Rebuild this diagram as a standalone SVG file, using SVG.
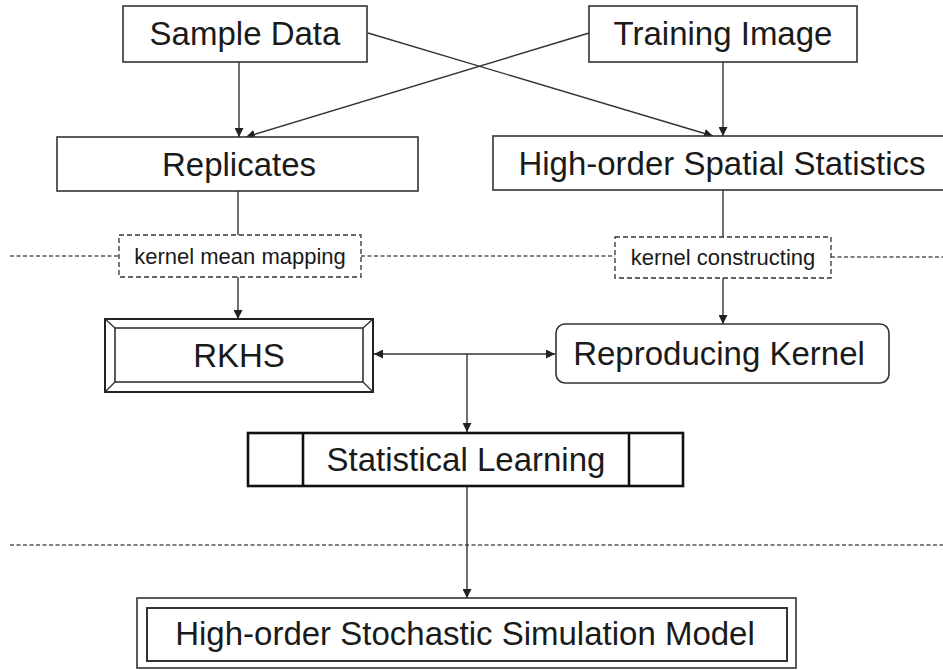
<svg xmlns="http://www.w3.org/2000/svg" width="943" height="670" viewBox="0 0 943 670">
  <style>
    .box { fill: #fff; stroke: #333; stroke-width: 1.6; }
    .lbl { font-family: "Liberation Sans", Arial, sans-serif; font-size: 33px; fill: #1a1a1a; text-anchor: middle; }
    .small { font-family: "Liberation Sans", Arial, sans-serif; font-size: 22px; fill: #1a1a1a; text-anchor: middle; }
    .dashbox { fill: #fff; stroke: #333; stroke-width: 1.3; stroke-dasharray: 5 3; }
    .sep { fill: none; stroke: #555; stroke-width: 1.3; stroke-dasharray: 4 2.5; }
    .edge { fill: none; stroke: #333; stroke-width: 1.4; }
  </style>
  <defs>
    <marker id="arrow" viewBox="0 0 10 10" refX="10" refY="5" markerWidth="9" markerHeight="9" markerUnits="userSpaceOnUse" orient="auto-start-reverse">
      <path d="M0,0 L10,5 L0,10 z" fill="#222"/>
    </marker>
  </defs>

  <rect width="943" height="670" fill="#fff"/>

  <!-- phase separators -->
  <g id="separators">
    <line class="sep" x1="10" y1="256" x2="119" y2="256"/>
    <line class="sep" x1="361" y1="256" x2="615" y2="256"/>
    <line class="sep" x1="831" y1="257" x2="943" y2="257"/>
    <line class="sep" x1="10" y1="545" x2="943" y2="545"/>
  </g>

  <!-- connectors -->
  <g id="connectors">
    <line class="edge" x1="239" y1="62" x2="239" y2="137" marker-end="url(#arrow)"/>
    <line class="edge" x1="723" y1="62" x2="723" y2="136" marker-end="url(#arrow)"/>
    <line class="edge" x1="368" y1="33" x2="713" y2="136" marker-end="url(#arrow)"/>
    <line class="edge" x1="589" y1="33" x2="246" y2="137" marker-end="url(#arrow)"/>
    <line class="edge" x1="238" y1="191" x2="238" y2="235"/>
    <line class="edge" x1="238" y1="277" x2="238" y2="319" marker-end="url(#arrow)"/>
    <line class="edge" x1="723" y1="190" x2="723" y2="237"/>
    <line class="edge" x1="723" y1="278" x2="723" y2="324" marker-end="url(#arrow)"/>
    <line class="edge" x1="374" y1="354" x2="555" y2="354" marker-start="url(#arrow)" marker-end="url(#arrow)"/>
    <line class="edge" x1="467" y1="354" x2="467" y2="432" marker-end="url(#arrow)"/>
    <line class="edge" x1="467" y1="487" x2="467" y2="598" marker-end="url(#arrow)"/>
  </g>

  <g id="sample-data">
    <rect class="box" x="123" y="6" width="244" height="56"/>
    <text class="lbl" x="245" y="45">Sample Data</text>
  </g>

  <g id="training-image">
    <rect class="box" x="589" y="6" width="268" height="56"/>
    <text class="lbl" x="723" y="45">Training Image</text>
  </g>

  <g id="replicates">
    <rect class="box" x="57" y="137" width="361" height="54"/>
    <text class="lbl" x="239" y="176">Replicates</text>
  </g>

  <g id="spatial-statistics">
    <rect class="box" x="493" y="136" width="460" height="54"/>
    <text class="lbl" x="722" y="175">High-order Spatial Statistics</text>
  </g>

  <g id="kernel-mean-mapping">
    <rect class="dashbox" x="119" y="235" width="242" height="42"/>
    <text class="small" x="240" y="264">kernel mean mapping</text>
  </g>

  <g id="kernel-constructing">
    <rect class="dashbox" x="615" y="237" width="216" height="41"/>
    <text class="small" x="723" y="265">kernel constructing</text>
  </g>

  <g id="rkhs">
    <rect x="105" y="319" width="268" height="73" fill="#fff" stroke="#222" stroke-width="2"/>
    <rect x="115" y="328" width="248" height="54" fill="none" stroke="#333" stroke-width="1.6"/>
    <path d="M105,319 L115,328 M373,319 L363,328 M105,392 L115,382 M373,392 L363,382" stroke="#333" stroke-width="1.4" fill="none"/>
    <text class="lbl" x="239" y="367">RKHS</text>
  </g>

  <g id="reproducing-kernel">
    <rect class="box" x="556" y="324" width="333" height="59" rx="9" ry="9"/>
    <text class="lbl" x="719" y="365">Reproducing Kernel</text>
  </g>

  <g id="statistical-learning">
    <rect x="248" y="433" width="435" height="53" fill="#fff" stroke="#111" stroke-width="2.6"/>
    <line x1="303" y1="433" x2="303" y2="486" stroke="#111" stroke-width="2.6"/>
    <line x1="629" y1="433" x2="629" y2="486" stroke="#111" stroke-width="2.6"/>
    <text class="lbl" x="466" y="471">Statistical Learning</text>
  </g>

  <g id="simulation-model">
    <rect x="137" y="598" width="659" height="70" fill="#fff" stroke="#333" stroke-width="1.6"/>
    <rect x="147" y="608" width="640" height="53" fill="none" stroke="#333" stroke-width="2"/>
    <text class="lbl" x="465" y="645">High-order Stochastic Simulation Model</text>
  </g>
</svg>
